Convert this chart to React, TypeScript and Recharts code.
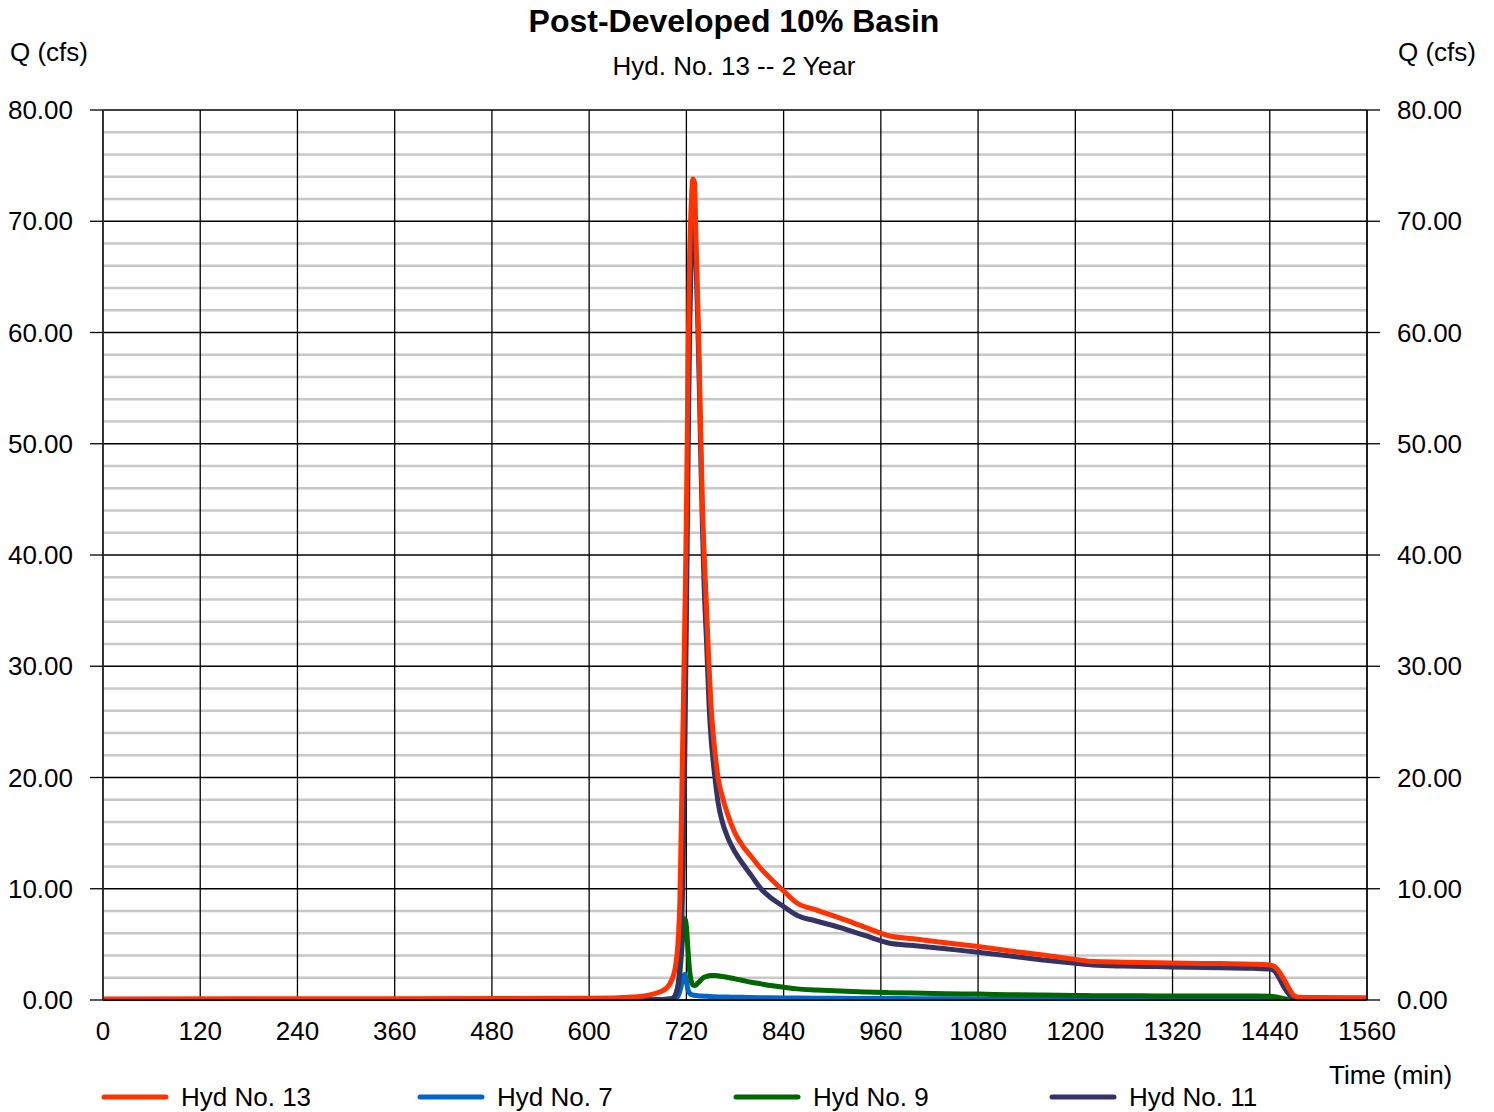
import React from "react";
import { LineChart, Line, XAxis, YAxis, CartesianGrid } from "recharts";

const timeMin = [0, 600, 660, 690, 700, 704, 706, 708, 710, 712, 714, 716, 718, 720, 722, 724, 726, 728, 730, 732, 734, 736, 738, 740, 742, 745, 748, 750, 753, 756, 759, 764, 770, 780, 790, 800, 812, 824, 840, 857, 880, 910, 940, 971, 1000, 1040, 1080, 1120, 1160, 1200, 1222, 1260, 1300, 1340, 1380, 1420, 1440, 1446, 1452, 1458, 1464, 1470, 1476, 1500, 1560];

const hyd13 = [0.1, 0.15, 0.3, 0.8, 1.5, 2.2, 2.8, 3.8, 5.5, 9, 17, 25.5, 34, 43.5, 57, 67, 71.5, 73.8, 73.5, 68, 63, 57, 50, 44, 40, 35, 30, 27, 24, 21.8, 20, 18.4, 16.9, 15, 13.8, 12.9, 11.8, 10.9, 9.8, 8.7, 8.1, 7.35, 6.55, 5.75, 5.5, 5.15, 4.8, 4.4, 4.05, 3.65, 3.45, 3.4, 3.35, 3.3, 3.27, 3.22, 3.15, 3.0, 2.5, 1.8, 1.0, 0.4, 0.25, 0.22, 0.2];

const hyd7 = [0, 0, 0, 0.01, 0.02, 0.05, 0.1, 0.2, 0.4, 0.8, 1.4, 2.1, 2.3, 1.7, 0.9, 0.6, 0.5, 0.45, 0.42, 0.4, 0.38, 0.37, 0.36, 0.35, 0.34, 0.33, 0.32, 0.31, 0.3, 0.29, 0.28, 0.27, 0.26, 0.25, 0.24, 0.22, 0.21, 0.2, 0.18, 0.17, 0.16, 0.15, 0.14, 0.13, 0.12, 0.11, 0.1, 0.1, 0.09, 0.08, 0.08, 0.08, 0.07, 0.07, 0.07, 0.06, 0.06, 0.05, 0.04, 0.03, 0.02, 0.01, 0.01, 0, 0];

const hyd9 = [0, 0, 0.02, 0.05, 0.1, 0.2, 0.35, 0.7, 1.3, 2.5, 4.2, 6.2, 7.3, 6.6, 4.5, 2.6, 1.7, 1.35, 1.3, 1.35, 1.5, 1.65, 1.8, 1.95, 2.05, 2.12, 2.18, 2.2, 2.2, 2.2, 2.18, 2.12, 2.05, 1.9, 1.75, 1.6, 1.45, 1.3, 1.15, 1.0, 0.9, 0.8, 0.72, 0.66, 0.62, 0.57, 0.53, 0.48, 0.44, 0.4, 0.39, 0.38, 0.37, 0.36, 0.35, 0.35, 0.34, 0.3, 0.2, 0.12, 0.06, 0.03, 0.02, 0.01, 0];

const hyd11 = [0, 0, 0.02, 0.05, 0.1, 0.2, 0.4, 0.8, 1.5, 3, 6, 12, 22, 34, 48, 60, 67, 70.5, 70.5, 66, 61, 55, 48, 42, 37, 32, 26.5, 24, 21.5, 19.5, 17.8, 16.1, 14.8, 13.3, 12.2, 11.2, 10.0, 9.2, 8.4, 7.6, 7.1, 6.5, 5.8, 5.1, 4.9, 4.6, 4.3, 3.95, 3.6, 3.3, 3.15, 3.05, 3.0, 2.95, 2.9, 2.85, 2.78, 2.6, 1.9, 1.1, 0.5, 0.2, 0.15, 0.12, 0.1];

const xTicks = [0, 120, 240, 360, 480, 600, 720, 840, 960, 1080, 1200, 1320, 1440, 1560];
const yTicks = [0, 10, 20, 30, 40, 50, 60, 70, 80];
const minorY = [2, 4, 6, 8, 12, 14, 16, 18, 22, 24, 26, 28, 32, 34, 36, 38, 42, 44, 46, 48, 52, 54, 56, 58, 62, 64, 66, 68, 72, 74, 76, 78];

const seriesNames = ["Hyd No. 13", "Hyd No. 7", "Hyd No. 9", "Hyd No. 11"];
const seriesKeys = ["h13", "h7", "h9", "h11"];
const seriesColors = ["#ff3300", "#0066cc", "#006600", "#333366"];

const title = "Post-Developed 10% Basin";
const subtitle = "Hyd. No. 13 -- 2 Year";
const yLabel = "Q (cfs)";
const xLabel = "Time (min)";

const data = timeMin.map((t, i) => ({ t, h13: hyd13[i], h7: hyd7[i], h9: hyd9[i], h11: hyd11[i] }));

const FONT = "'Liberation Sans', Arial, Helvetica, sans-serif";
const tickStyle = { fontSize: 26, fill: "#000", fontFamily: FONT };

const drawOrder = [1, 2, 3, 0];

export default function App() {
  return (
    <div style={{ position: "absolute", left: 0, top: 0, width: 1494, height: 1112, background: "#fff" }}>
      <LineChart width={1494} height={1112} data={data} margin={{ top: 110, right: 0, bottom: 0, left: 0 }}>
        <CartesianGrid horizontalValues={minorY} vertical={false} stroke="#c8c8c8" strokeWidth={2.5} />
        <CartesianGrid horizontalValues={yTicks} verticalValues={xTicks} stroke="#000" strokeWidth={1.3} />
        <XAxis
          dataKey="t"
          type="number"
          domain={[0, 1560]}
          ticks={xTicks}
          interval={0}
          tickLine={false}
          tickSize={6}
          tickMargin={16}
          height={112}
          axisLine={{ stroke: "#000", strokeWidth: 1.5 }}
          tick={tickStyle}
          allowDataOverflow
        />
        <YAxis
          yAxisId={0}
          domain={[0, 80]}
          ticks={yTicks}
          interval={0}
          width={103}
          tickFormatter={(v: number) => v.toFixed(2)}
          tickSize={13}
          tickMargin={17}
          tickLine={{ stroke: "#000", strokeWidth: 1.3 }}
          axisLine={{ stroke: "#333", strokeWidth: 2 }}
          tick={tickStyle}
          allowDataOverflow
        />
        <YAxis
          yAxisId="r"
          orientation="right"
          domain={[0, 80]}
          ticks={yTicks}
          interval={0}
          width={127}
          tickFormatter={(v: number) => v.toFixed(2)}
          tickSize={13}
          tickMargin={17}
          tickLine={{ stroke: "#000", strokeWidth: 1.3 }}
          axisLine={{ stroke: "#000", strokeWidth: 1.3 }}
          tick={tickStyle}
          allowDataOverflow
        />
        {drawOrder.map((i) => (
          <Line
            key={seriesKeys[i]}
            yAxisId={0}
            type="monotone"
            dataKey={seriesKeys[i]}
            name={seriesNames[i]}
            stroke={seriesColors[i]}
            strokeWidth={5}
            dot={false}
            activeDot={false}
            isAnimationActive={false}
          />
        ))}
      </LineChart>
      <svg
        width={1494}
        height={1112}
        style={{ position: "absolute", left: 0, top: 0, pointerEvents: "none" }}
        fontFamily={FONT}
      >
        <text x={734} y={32} textAnchor="middle" fontSize={32} fontWeight="bold" fill="#000">
          {title}
        </text>
        <text x={734} y={75} textAnchor="middle" fontSize={26} fill="#000">
          {subtitle}
        </text>
        <text x={10} y={61} fontSize={26} fill="#000">
          {yLabel}
        </text>
        <text x={1398} y={61} fontSize={26} fill="#000">
          {yLabel}
        </text>
        <text x={1329} y={1084} fontSize={26} fill="#000">
          {xLabel}
        </text>
        {seriesNames.map((n, i) => (
          <g key={n}>
            <line
              x1={104 + i * 316}
              x2={166 + i * 316}
              y1={1097}
              y2={1097}
              stroke={seriesColors[i]}
              strokeWidth={5}
              strokeLinecap="round"
            />
            <text x={181 + i * 316} y={1106} fontSize={26} fill="#000">
              {n}
            </text>
          </g>
        ))}
      </svg>
    </div>
  );
}
